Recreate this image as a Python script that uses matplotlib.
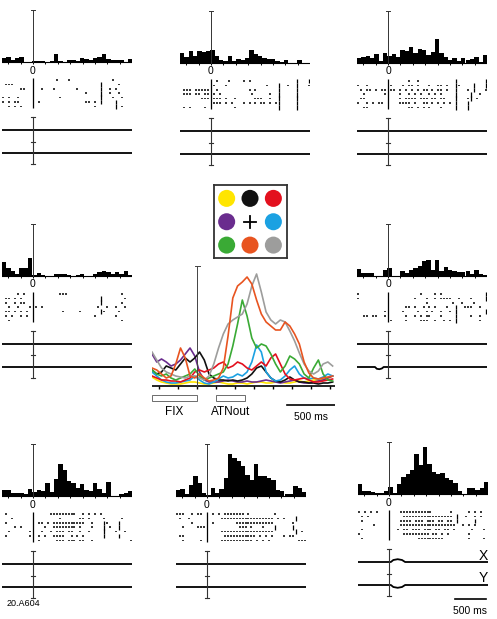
import numpy as np
import matplotlib
matplotlib.use("Agg")
import matplotlib.pyplot as plt
from matplotlib.patches import Rectangle, Circle

plt.rcParams['font.family'] = ['Liberation Sans', 'DejaVu Sans']

W, H = 497, 619

# --- histogram data: 30 bins of 70 ms from -500 to 1600 ms (height in px-like units)
tl_hist = [4, 5, 2.5, 4, 5, 0.5, 0.5, 1, 1.5, 1, 0.5, 1.5, 8, 1, 0, 2, 2, 1.5, 4, 3.5, 2, 4, 5, 8, 3, 2, 2.5, 2, 0.5, 3]
tm_hist = [10, 6, 12, 7, 12, 11, 12, 13, 7, 3, 2, 7, 2, 4, 3, 5, 13, 9, 7, 5, 4, 4, 2, 1, 3, 0.5, 0, 3, 0, 0]
tr_hist = [5, 6, 7, 5, 9, 2, 10, 7, 9, 6, 13, 12, 16, 10, 14, 13, 8, 11, 24, 10, 6, 3, 5, 2, 5, 3, 4, 6, 1, 8]
ml_hist = [14, 8, 5, 2, 8, 8, 18, 1, 3, 1, 0, 0, 2, 1.5, 2, 0.5, 0, 0.5, 2, 0, 0, 2, 4, 5, 4, 2, 4, 2, 5, 0.5]
mr_hist = [7, 3, 3, 3, 0, 0, 6, 8, 0, 0, 5, 3, 6, 8, 10, 15, 16, 6, 16, 5, 9, 6, 5, 4, 4, 5, 2, 6, 2, 1]
bl_hist = [6, 6, 3, 3, 3, 2, 7, 4, 6, 5, 13, 4, 17, 32, 26, 15, 13, 8, 12, 6, 5, 13, 7, 3, 14, 0, 0, 2, 3, 5]
bm_hist = [6, 7, 2, 11, 20, 13, 3, 1, 8, 3, 7, 18, 42, 38, 35, 30, 21, 16, 32, 20, 20, 18, 16, 6, 5, 2, 2, 10, 8, 4]
br_hist = [10, 3, 3, 2, 1, 1, 3, 7, 1, 10, 17, 20, 24, 40, 29, 47, 30, 22, 20, 21, 16, 14, 11, 3, 0, 6, 6, 4, 6, 12]

# --- rasters: 7 trials, spike columns (44 columns over -500..1600 ms), "|" = event tick
tl_raster = ["18 22 37", "1 2 3 33| 39", "6 7 13 17 25 33| 36 38", "28 33| 36 39",
             "0 2 5 19 33| 37 40", "0 2 4 5 12 28 29 31 33| 38|", "2 4 6 31 38| 40"]
tm_raster = ["12 16 21 23 39| 43|", "11 15 29 33| 36 39| 43",
             "1 2 3 5 6 7 8 9 12 23 25 33| 39|", "1 2 3 5 6 8 9 11 13 24 30 33| 39|",
             "7 8 9 11 12 13 15 18 25 26 27 30 33| 39|",
             "11 12 13 15 17 21 23 25 27 28 30 32 33| 39|", "1 3 8 18 33| 39|"]
tr_raster = ["17 20 33| 43|",
             "0 3 11 15 17 18 20 24 27 28 30 33| 34 39| 43|",
             "1 3 4 6 8 9 11 12 14 16 18 20 22 23 25 27 28 30 33| 37 39| 43",
             "2 9 14 17 19 21 24 26 28 33| 38| 41",
             "1 2 14 16 17 18 19 21 22 23 25 26 28 29 33| 37 38| 40",
             "0 3 5 7 8 14 15 16 17 19 22 23 25 27 29 31 33| 37|",
             "2 3 17 18 20 22 24 28 33| 37|"]
ml_raster = ["5 7 19 20 21 40", "1 2 4 6 33| 41", "1 4 6 7 33| 40", "2 5 9 11 13 32 35 38 41",
             "1 2 4 6 8 20 26 33| 34 39", "1 3 6 8 31 38", "2 40"]
mr_raster = ["0 21 26 28 43|", "0 19 23 26 28 29 30 31 34 38 43|", "23 32 35 39",
             "16 17 19 22 24 26 30 33| 36 37 38 41", "9 15 20 23 25 28 31 33| 43|",
             "2 3 5 6 9 16 19 21 23 24 28 33| 38 41", "11 16 21 22 23 26 29 31 33| 41"]
bl_raster = ["1 16 17 18 19 20 21 22 23 24 27 29 31 33",
             "3 19 26 27 29 34 40",
             "1 12 13 15 17 18 19 20 21 22 23 24 25 26 27 30 34| 35 39|",
             "4 6 14 17 18 19 20 21 22 23 24 26 30 34| 36 39|",
             "2 9 13 16 18 19 20 22 23 26 29 34| 38 41",
             "1 9 12 14 17 18 19 20 23 25 27 34| 39|",
             "12 18 19 20 22 23 24 26 27 30 43"]
bm_raster = ["0 1 2 5 7 8 12 14 16 17 18 19 20 21 22 24 33",
             "1 4 15 16 17 18 19 20 21 22 23 24 25 26 27 28 29 30 31 32 34 36 40|",
             "5 12 20 21 22 23 24 25 26 27 28 29 30 31 32 39",
             "2 7 8 9 21 22 23 25 29 33| 39|",
             "15 16 17 18 19 20 21 22 23 24 25 26 27 28 29 30 31 32 40| 42",
             "1 2 16 17 18 19 20 21 22 23 24 25 26 28 30 32 36 38 39",
             "2 8 15 16 17 18 19 20 21 22 23 24 25 27 29 31 41 42 43"]
br_raster = ["0 2 4 6 14 15 16 17 18 19 20 21 22 23 24 31 37 39 41",
             "1 3 15 16 17 18 19 20 21 22 23 24 25 26 27 28 29 30 31 33| 36 39 41",
             "1 14 15 16 17 19 20 21 23 24 25 27 28 30 31 33| 39|",
             "5 14 15 16 17 18 19 20 21 22 23 24 25 26 27 28 29 30 31 32 35 37 39",
             "1 13 15 16 18 19 20 22 23 24 26 27 29 30 32 38 42",
             "0 15 16 17 18 19 20 21 22 23 25 26 28 30 37",
             "1 20 21 22 23 24 25 26 27 28 37 42"]

# --- eye position deviations (ms, px)
br_eye_t = [-500, 30, 70, 140, 210, 260, 1600]
br_eye_x = [0, 0, 2, 2.8, 2, 0, 0]
br_eye_y = [0, 0, -2, -2.8, -2, 0, 0]
mr_eye_t = [-500, -210, -180, -140, -100, -70, 1600]
mr_eye_y = [0, 0, -1.8, -2.2, -1.5, 0, 0]

# --- population curves (center)
t_curve = list(range(-475, 1426, 50))
curve_colors = ['#FFE500', '#6A2C8E', '#111111', '#1BA1E2', '#E3101E', '#3AAA35', '#9D9D9C', '#E85420']
yellow = [9, 6, 4, 3, 2, 2, 2, 3, 4, 4, 3, 2, 2, 3, 4, 3, 2, 2, 3, 3, 2, 3, 4, 4, 3, 3, 4, 4, 3, 3, 4, 5, 4, 5, 6, 6, 7, 8, 10]
purple = [32, 24, 27, 24, 20, 22, 26, 32, 38, 30, 14, 6, 4, 4, 4, 5, 6, 5, 4, 4, 5, 4, 4, 5, 6, 5, 4, 3, 4, 5, 6, 4, 3, 3, 4, 5, 6, 8, 10]
black = [16, 12, 14, 20, 18, 16, 22, 28, 24, 28, 34, 26, 12, 8, 6, 6, 5, 6, 5, 6, 8, 12, 18, 20, 14, 8, 5, 4, 6, 9, 6, 4, 4, 3, 3, 2, 3, 3, 4]
cyan = [14, 10, 6, 4, 3, 3, 4, 5, 6, 10, 6, 3, 2, 4, 7, 10, 8, 9, 12, 10, 14, 24, 41, 34, 14, 8, 5, 6, 10, 16, 20, 12, 8, 7, 8, 7, 9, 12, 10]
red = [10, 8, 6, 6, 5, 5, 4, 6, 8, 14, 16, 14, 16, 18, 22, 24, 18, 20, 24, 22, 18, 16, 20, 24, 20, 28, 32, 22, 12, 7, 6, 7, 8, 6, 4, 4, 5, 6, 7]
green = [16, 12, 10, 12, 8, 6, 8, 10, 12, 17, 10, 6, 8, 10, 12, 14, 22, 40, 62, 86, 70, 48, 38, 42, 40, 32, 22, 14, 20, 30, 27, 22, 12, 8, 18, 26, 12, 6, 5]
gray = [34, 26, 18, 14, 12, 10, 9, 8, 10, 10, 8, 6, 10, 22, 38, 52, 62, 66, 69, 72, 82, 100, 112, 94, 74, 66, 62, 66, 64, 55, 45, 33, 22, 15, 12, 15, 22, 24, 20]
orange = [18, 16, 12, 8, 10, 22, 38, 28, 10, 8, 12, 8, 5, 6, 8, 18, 50, 88, 100, 104, 109, 102, 86, 72, 64, 60, 56, 56, 64, 60, 52, 42, 24, 13, 8, 7, 8, 9, 10]

# legend grid colours (row by row, centre is the fixation cross)
grid_colors = [['#FFE500', '#111111', '#E3101E'],
               ['#6A2C8E', None, '#1BA1E2'],
               ['#3AAA35', '#E85420', '#9D9D9C']]

fig = plt.figure(figsize=(W / 100, H / 100), dpi=100)


def px_axes(left, top, right, bottom):
    ax = fig.add_axes([left / W, 1 - bottom / H, (right - left) / W, (bottom - top) / H])
    ax.set_axis_off()
    return ax


def draw_panel(zero_x, base_y, hist, raster, eye=None):
    ppms = 0.062
    ax = px_axes(zero_x - 500 * ppms, base_y - 56, zero_x + 1600 * ppms, base_y + 106)
    ax.set_xlim(-500, 1600)
    ax.set_ylim(-106, 56)
    edges = np.linspace(-500, 1600, len(hist) + 1)
    ax.bar(edges[:-1], hist, width=edges[1] - edges[0], align='edge', color='black', lw=0)
    ax.plot([-500, 1600], [0, 0], color='black', lw=0.8)
    ax.vlines(np.arange(-400, 1601, 200), -1.6, 0, color='black', lw=0.7)
    ax.plot([0, 0], [0, 52], color='#333333', lw=0.7)
    ax.plot([-35, 35], [52, 52], color='#333333', lw=0.7)
    ax.text(0, -8.5, '0', ha='center', va='center', fontsize=7.5)
    # raster
    colw = 2100 / 44
    for r, row in enumerate(raster):
        y = -(18 + 4.4 * r)
        for tok in row.split():
            tall = tok.endswith('|')
            t = -500 + (int(tok.rstrip('|')) + 0.5) * colw
            h = 2.3 if tall else 0.8
            ax.vlines(t, y - h, y + h, color='black', lw=0.9 if tall else 1.1)
    ax.vlines(0, -16, -18 - 4.4 * 6 - 2, color='black', lw=0.9)
    # eye traces
    ex_t, ex, ey_t, ey = ([-500, 1600], [0, 0], [-500, 1600], [0, 0]) if eye is None else eye
    ax.plot(ex_t, np.array(ex) - 68, color='black', lw=1.3)
    ax.plot(ey_t, np.array(ey) - 91, color='black', lw=1.3)
    ax.plot([0, 0], [-55, -102], color='#333333', lw=0.8)
    for yy in (-55, -79.5, -102):
        ax.plot([-35, 35], [yy, yy], color='#333333', lw=0.8)
    return ax


draw_panel(33, 62, tl_hist, tl_raster)
draw_panel(211, 63, tm_hist, tm_raster)
draw_panel(388, 63, tr_hist, tr_raster)
draw_panel(33, 276, ml_hist, ml_raster)
draw_panel(388, 276, mr_hist, mr_raster, ([-500, 1600], [0, 0], mr_eye_t, mr_eye_y))
draw_panel(33, 496, bl_hist, bl_raster)
draw_panel(207, 496, bm_hist, bm_raster)
ax_br = draw_panel(389, 494, br_hist, br_raster, (br_eye_t, br_eye_x, br_eye_t, br_eye_y))
ax_br.text(1600, -62, 'X', ha='right', va='center', fontsize=10)
ax_br.text(1600, -84, 'Y', ha='right', va='center', fontsize=10)
ax_br.plot([1070, 1570], [-105, -105], color='black', lw=1.2, clip_on=False)
fig.text(470 / W, 1 - 611 / H, '500 ms', ha='center', va='center', fontsize=7.5)
fig.text(7 / W, 1 - 604 / H, '20.A604', ha='left', va='center', fontsize=6.5)

# --- centre population panel
axc = px_axes(152, 261, 335, 418)
axc.set_xlim(-475, 1450)
axc.set_ylim(-32, 125)
for vals, col in zip([yellow, purple, black, cyan, red, green, gray, orange], curve_colors):
    axc.plot(t_curve, vals, color=col, lw=1.2)
axc.plot([-475, 1450], [0, 0], color='black', lw=1.2)
axc.vlines(np.arange(-400, 1401, 200), -2.5, 0, color='black', lw=1)
axc.plot([0, 0], [0, 120], color='#444444', lw=0.7)
axc.plot([-25, 25], [120, 120], color='#444444', lw=0.7)
axc.add_patch(Rectangle((-475, -15), 475, 6, fill=False, ec='#555555', lw=0.6))
axc.add_patch(Rectangle((200, -15), 300, 6, fill=False, ec='#555555', lw=0.6))
axc.text(-237, -26, 'FIX', ha='center', va='center', fontsize=8.5)
axc.text(350, -26, 'ATNout', ha='center', va='center', fontsize=8.5)
axc.plot([950, 1450], [-19, -19], color='black', lw=1.2)
axc.text(1200, -31, '500 ms', ha='center', va='center', fontsize=7.5, clip_on=False)

# --- colour legend box
axl = fig.add_axes([214 / W, 1 - 258 / H, 73 / W, 73 / H])
axl.set_xlim(0, 3)
axl.set_ylim(0, 3)
axl.set_xticks([])
axl.set_yticks([])
for s in axl.spines.values():
    s.set_linewidth(1.3)
    s.set_color('#333333')
for i, row in enumerate(grid_colors):
    for j, col in enumerate(row):
        cx, cy = 0.52 + j * 0.96, 2.45 - i * 0.96
        if col is None:
            axl.plot([cx - 0.25, cx + 0.25], [cy, cy], color='black', lw=1.3)
            axl.plot([cx, cx], [cy - 0.25, cy + 0.25], color='black', lw=1.3)
        else:
            axl.add_patch(Circle((cx, cy), 0.35, color=col, lw=0))

fig.savefig('out.png', dpi=100)
